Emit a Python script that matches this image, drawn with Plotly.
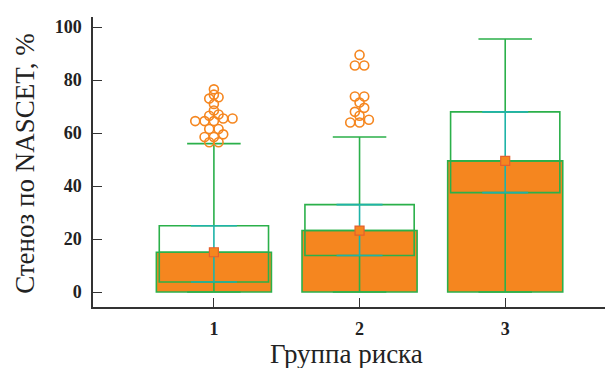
import plotly.graph_objects as go
from collections import defaultdict

# ---- data ----
groups = [1, 2, 3]
means = [15, 23.2, 49.5]
medians = [15, 23.2, 49.5]
q1 = [3.8, 13.8, 37.5]
q3 = [25, 33, 68]
whisker_low = [0, 0, 0]
whisker_high = [56, 58.5, 95.5]
outliers_g1 = [56.5, 56.5, 58.5, 58.5, 59.5, 61.5, 61.5, 64.5, 64.5, 64.5,
               65.5, 65.5, 66.5, 67, 68.5, 71, 73, 73.5, 74.5, 76.5]
outliers_g2 = [64, 64, 65, 66.5, 68, 69.5, 71.5, 73.8, 73.8, 85.5, 85.5, 89.5]
outliers_g3 = []
outliers = [outliers_g1, outliers_g2, outliers_g3]
y_ticks = [0, 20, 40, 60, 80, 100]
x_ticks = [1, 2, 3]
x_title = "Группа риска"
y_title = "Стеноз по NASCET, %"

ORANGE = "#f5861f"
GREEN = "#2bb04a"
CYAN = "#1eb3a8"
FONT = "Liberation Serif"

# binned dot-plot layout for outliers
BIN = 2.0
STEP = 0.064
ox, oy = [], []
for g, vals in zip(groups, outliers):
    bins = defaultdict(list)
    for v in vals:
        bins[int(v // BIN)].append(v)
    for b, vs in bins.items():
        vs = sorted(vs)
        n = len(vs)
        for i, v in enumerate(vs):
            ox.append(g + (i - (n - 1) / 2) * STEP)
            oy.append(v)

fig = go.Figure()
fig.add_trace(go.Bar(x=groups, y=means, width=0.79,
                     marker=dict(color=ORANGE, line=dict(color=GREEN, width=1.6)),
                     showlegend=False))
fig.add_trace(go.Box(x=groups, q1=q1, median=medians, q3=q3,
                     lowerfence=whisker_low, upperfence=whisker_high,
                     width=0.75, whiskerwidth=0.49, boxpoints=False,
                     fillcolor="rgba(0,0,0,0)",
                     line=dict(color=GREEN, width=1.6), showlegend=False))
fig.add_trace(go.Scatter(x=groups, y=q1, mode="markers",
                         marker=dict(size=1, color="rgba(0,0,0,0)"),
                         error_y=dict(type="data", symmetric=False,
                                      array=[b - a for a, b in zip(q1, q3)],
                                      arrayminus=[0, 0, 0],
                                      color=CYAN, thickness=1.6, width=23),
                         showlegend=False, hoverinfo="skip"))
fig.add_trace(go.Scatter(x=groups, y=means, mode="markers",
                         marker=dict(symbol="square", size=9, color=ORANGE,
                                     line=dict(color="#e5602d", width=1.2)),
                         showlegend=False))
fig.add_trace(go.Scatter(x=ox, y=oy, mode="markers",
                         marker=dict(symbol="circle-open", size=9, color=ORANGE,
                                     line=dict(width=1.6)),
                         showlegend=False))

# page body has an 8px margin, so the figure is sized/offset to compensate
fig.update_layout(
    width=605, height=360,
    margin=dict(l=85, r=0, t=9, b=61, autoexpand=False),
    paper_bgcolor="white", plot_bgcolor="white",
    barmode="overlay", boxmode="overlay",
    font=dict(family=FONT, color="#222"),
    annotations=[
        dict(text=x_title, xref="paper", yref="paper", x=0.4875, y=-0.162,
             xanchor="center", yanchor="middle", showarrow=False,
             font=dict(family=FONT, size=27, color="#222")),
        dict(text=y_title, xref="paper", yref="paper", x=-0.131, y=0.4966,
             xanchor="center", yanchor="middle", showarrow=False, textangle=-90,
             font=dict(family=FONT, size=27, color="#222")),
    ],
)
fig.update_xaxes(range=[0.17, 3.74], tickvals=x_ticks, ticktext=[str(t) for t in x_ticks],
                 ticks="inside", ticklen=9, tickcolor="#333", tickwidth=1.3,
                 showline=True, linecolor="#333", linewidth=1.5,
                 showgrid=False, zeroline=False, automargin=False,
                 tickfont=dict(family=FONT, size=18, weight="bold", color="#222"),
                 ticklabelstandoff=5)
fig.update_yaxes(range=[-5.66, 103.8], tickvals=y_ticks,
                 ticks="inside", ticklen=9, tickcolor="#333", tickwidth=1.3,
                 showline=True, linecolor="#333", linewidth=1.5,
                 showgrid=False, zeroline=False, automargin=False,
                 tickfont=dict(family=FONT, size=18, weight="bold", color="#222"),
                 ticklabelstandoff=6)
fig.write_html("out.html")
